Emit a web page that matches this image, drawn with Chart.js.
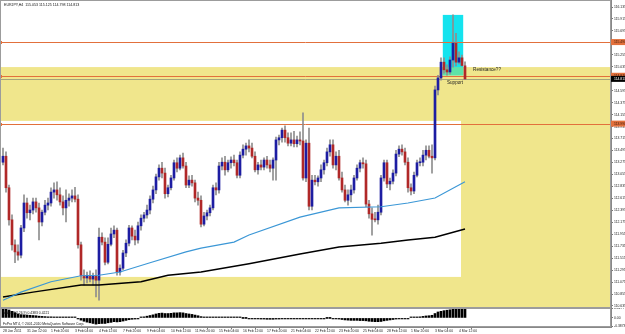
<!DOCTYPE html>
<html><head><meta charset="utf-8">
<script src="https://cdn.jsdelivr.net/npm/chart.js@4/dist/chart.umd.min.js"></script>
<style>
html,body{margin:0;padding:0;background:#fff;}
#wrap{position:relative;width:625px;height:334px;overflow:hidden;background:#fff;}
#c1{position:absolute;left:0;top:0;}
#c2{position:absolute;left:0;top:308px;}
</style></head><body>
<div id="wrap"><canvas id="c1" width="625" height="308"></canvas><canvas id="c2" width="625" height="26"></canvas></div>
<script>
// ---------------- DATA ----------------
const chartTitle = "EURJPY,H4  115.053 115.125 114.798 114.813";
const macdTitle = "MACD(12,26,9) 0.4383 0.4221";
const copyrightText = "FxPro MT4, \u00A9 2001-2010 MetaQuotes Software Corp.";

const openP = [113.28,113.39,112.81,112.22,111.76,111.63,111.57,112.07,112.53,112.35,
 112.40,112.55,112.44,112.18,112.36,112.49,112.53,112.73,112.77,112.68,
 112.55,112.44,112.58,112.62,112.66,112.60,111.76,111.19,111.15,111.20,
 111.13,111.19,111.11,111.90,111.81,111.44,111.77,111.96,112.03,111.26,
 111.33,111.61,111.79,112.07,111.92,111.85,112.11,112.25,112.31,112.40,
 112.60,112.77,113.01,113.17,113.08,112.70,112.81,112.99,113.27,113.17,
 113.36,113.21,112.86,112.95,112.90,112.62,112.58,112.14,112.29,112.35,
 112.44,112.81,112.77,113.21,113.28,113.14,113.27,113.32,113.27,113.04,
 113.41,113.52,113.58,113.54,113.39,113.14,113.23,113.19,113.32,113.23,
 113.17,113.32,113.69,113.73,113.87,113.73,113.63,113.69,113.62,113.69,
 113.67,112.99,113.63,112.47,112.95,112.92,112.99,113.14,113.27,113.47,
 113.60,113.23,113.39,112.99,112.77,112.58,112.68,112.77,112.99,113.17,
 113.27,113.25,112.51,112.33,112.23,112.22,112.36,112.99,113.27,112.88,
 112.93,113.08,113.43,113.52,113.47,113.28,112.81,112.75,113.04,113.27,
 113.28,113.41,113.50,113.39,113.36,114.61,114.83,115.12,114.98,114.94,
 115.16,115.47,115.12,115.20,115.053];
const highP = [113.54,113.47,112.86,112.31,111.85,111.76,112.12,112.68,112.62,112.49,
 112.62,112.62,112.53,112.40,112.58,112.62,112.81,112.90,112.92,112.81,
 112.66,112.77,112.70,112.77,112.82,112.68,111.81,111.30,111.26,111.28,
 111.24,111.30,112.07,111.98,111.89,111.89,112.07,112.11,112.07,111.39,
 111.66,111.85,112.12,112.11,112.03,112.18,112.31,112.36,112.49,112.66,
 112.84,113.06,113.23,113.28,113.17,112.86,113.04,113.32,113.36,113.41,
 113.45,113.28,113.03,113.04,112.95,112.73,112.66,112.36,112.40,112.49,
 112.86,112.90,113.28,113.36,113.39,113.32,113.38,113.41,113.32,113.47,
 113.60,113.63,113.69,113.63,113.47,113.28,113.32,113.36,113.39,113.32,
 113.36,113.74,113.78,113.91,113.95,113.82,113.82,113.85,113.76,113.84,
 114.19,113.69,113.91,113.04,113.04,113.03,113.23,113.32,113.54,113.69,
 113.69,113.47,113.50,113.10,112.86,112.77,112.86,113.04,113.23,113.32,
 113.36,113.32,112.58,112.44,112.36,112.49,113.04,113.32,113.32,112.99,
 113.14,113.50,113.58,113.60,113.54,113.36,112.88,113.10,113.32,113.36,
 113.50,113.58,113.58,113.60,114.68,114.88,115.20,115.20,115.07,115.22,
 115.99,115.65,115.31,115.25,115.125];
const lowP = [113.23,112.73,112.12,111.66,111.43,111.48,111.52,112.00,112.25,112.22,
 112.33,112.36,111.85,112.11,112.31,112.40,112.47,112.62,112.58,112.49,
 112.31,112.18,112.47,112.55,112.55,111.70,111.11,111.02,111.06,111.08,
 111.02,110.80,110.74,111.76,111.39,111.41,111.74,111.89,111.20,111.20,
 111.30,111.54,111.74,111.85,111.76,111.79,112.03,112.18,112.25,112.33,
 112.53,112.70,112.95,112.99,112.62,112.64,112.77,112.95,113.10,113.14,
 113.17,112.81,112.81,112.84,112.55,112.49,112.09,112.11,112.22,112.29,
 112.40,112.68,112.71,113.14,113.04,113.10,113.17,113.21,112.99,112.99,
 113.36,113.41,113.47,113.36,113.10,113.06,113.14,113.14,113.17,113.10,
 112.95,112.95,113.60,113.65,113.65,113.58,113.58,113.56,113.56,113.60,
 112.95,112.92,112.40,112.40,112.86,112.84,112.92,113.06,113.21,113.39,
 113.17,113.14,112.95,112.73,112.55,112.49,112.55,112.71,112.95,113.10,
 113.17,112.46,112.25,111.94,112.18,112.14,112.31,112.93,112.81,112.77,
 112.88,113.03,113.38,113.41,113.23,112.73,112.68,112.70,113.01,113.21,
 113.21,113.32,113.36,113.08,113.32,114.52,114.79,114.92,114.88,114.90,
 115.03,115.05,115.09,115.05,114.798];
const closeP = [113.39,112.81,112.22,111.76,111.63,111.57,112.07,112.53,112.35,112.40,
 112.55,112.44,112.18,112.36,112.49,112.53,112.73,112.77,112.68,112.55,
 112.44,112.58,112.62,112.66,112.60,111.76,111.19,111.15,111.20,111.13,
 111.19,111.11,111.90,111.81,111.44,111.77,111.96,112.03,111.26,111.33,
 111.61,111.79,112.07,111.92,111.85,112.11,112.25,112.31,112.40,112.60,
 112.77,113.01,113.17,113.08,112.70,112.81,112.99,113.27,113.17,113.36,
 113.21,112.86,112.95,112.90,112.62,112.58,112.14,112.29,112.35,112.44,
 112.81,112.77,113.21,113.28,113.14,113.27,113.32,113.27,113.04,113.41,
 113.52,113.58,113.54,113.39,113.14,113.23,113.19,113.32,113.23,113.17,
 113.32,113.69,113.73,113.87,113.73,113.63,113.69,113.62,113.69,113.67,
 112.99,113.63,112.47,112.95,112.92,112.99,113.14,113.27,113.47,113.60,
 113.23,113.39,112.99,112.77,112.58,112.68,112.77,112.99,113.17,113.27,
 113.25,112.51,112.33,112.23,112.22,112.36,112.99,113.27,112.88,112.93,
 113.08,113.43,113.52,113.47,113.28,112.81,112.75,113.04,113.27,113.28,
 113.41,113.50,113.39,113.36,114.61,114.83,115.12,114.98,114.94,115.16,
 115.47,115.12,115.20,115.06,114.813];

const macdVals = [0.42,0.40,0.36,0.30,0.24,0.18,0.15,0.14,0.13,0.12,
 0.11,0.10,0.08,0.07,0.06,0.05,0.05,0.04,0.04,0.03,
 0.03,0.02,0.02,0.02,0.01,-0.03,-0.10,-0.15,-0.19,-0.22,
 -0.25,-0.28,-0.26,-0.25,-0.25,-0.22,-0.20,-0.17,-0.18,-0.17,
 -0.14,-0.11,-0.08,-0.06,-0.05,-0.02,0.02,0.05,0.08,0.11,
 0.14,0.18,0.21,0.22,0.20,0.20,0.21,0.23,0.23,0.24,
 0.23,0.20,0.18,0.16,0.13,0.10,0.06,0.04,0.03,0.02,
 0.03,0.03,0.04,0.04,0.03,0.03,0.02,0.02,0.01,0.01,
 0.00,0.00,-0.01,-0.02,-0.03,-0.04,-0.05,-0.05,-0.06,-0.06,
 -0.06,-0.05,-0.05,-0.04,-0.04,-0.03,-0.03,-0.02,-0.02,-0.01,
 -0.01,-0.01,-0.02,-0.02,-0.02,-0.02,-0.01,-0.01,0.00,0.00,
 -0.01,-0.03,-0.05,-0.07,-0.09,-0.10,-0.11,-0.11,-0.11,-0.12,
 -0.12,-0.13,-0.15,-0.16,-0.17,-0.17,-0.16,-0.13,-0.11,-0.09,
 -0.07,-0.05,-0.03,-0.02,-0.01,-0.01,0.01,0.02,0.04,0.05,
 0.07,0.09,0.10,0.12,0.20,0.27,0.30,0.33,0.35,0.37,
 0.39,0.41,0.42,0.42,0.42];

const maBlueBar = [0,6,16,26,32,39,49,61,66,77,82,99,112,126,135,144,154];
const maBlueVal = [110.74,110.89,111.08,111.19,111.20,111.26,111.43,111.63,111.70,111.81,111.94,112.27,112.44,112.46,112.53,112.62,112.92];
const maBlackBar = [0,10,26,32,46,55,66,82,99,112,126,135,144,154];
const maBlackVal = [110.80,110.89,111.02,111.02,111.08,111.20,111.26,111.41,111.59,111.72,111.79,111.85,111.90,112.05];

const timeLabels = ["28 Jan 2011","31 Jan 12:00","1 Feb 20:00","3 Feb 04:00","4 Feb 12:00","7 Feb 20:00",
 "9 Feb 04:00","10 Feb 12:00","11 Feb 20:00","15 Feb 04:00","16 Feb 12:00","17 Feb 20:00","21 Feb 04:00",
 "22 Feb 12:00","23 Feb 20:00","25 Feb 04:00","28 Feb 12:00","1 Mar 20:00","3 Mar 04:00","4 Mar 12:00"];
const barsPerLabel = 8;

const priceTicks = [116.135,115.915,115.695,115.475,115.255,115.035,114.815,114.595,114.375,114.155,
 113.935,113.715,113.495,113.275,113.055,112.835,112.615,112.395,112.175,111.955,
 111.735,111.515,111.295,111.075,110.855,110.635];
const macdTicks = [0.4277, 0, -0.3873];
const macdTickLabels = ["0.4277","0.00","-0.3873"];

// rectangles: [fromBar, toBar, topPrice, bottomPrice]
const zoneYellow = [-5, 230, 115.03, 109.0];
const zoneWhite = [-5, 152.67, 114.04, 111.17];
const zoneCyan = [146.6, 153.4, 115.99, 114.88];
const levelPrices = [115.49, 114.87, 113.99];
const levelLabels = ["115.490","114.870","113.990"];
const bidPrice = 114.813;
const notes = ["Support", "Resistance??"];
const noteBars = [148, 156.7];
const notePrices = [114.75, 114.975];

// ---------------- HELPERS ----------------
const N = closeP.length;
const X_MIN = -1, X_MAX = -1 + 611/3;
const FONT = '"Liberation Sans", Arial, sans-serif';
const UP = '#1d1da2', DOWN = '#b02828', WICK = '#8e8e8e';
const YELLOW = '#F0E68C', CYAN = '#14E3EE', GREEN = '#5FE3A8', ORANGE = '#E2703C';

const idx = [...Array(N).keys()];
const wickData = idx.map(i => ({x: i, y: [lowP[i], highP[i]]}));
const bodyData = idx.map(i => ({x: i, y: [openP[i], closeP[i]]}));
const bodyColors = idx.map(i => closeP[i] >= openP[i] ? UP : DOWN);
const blueData = maBlueBar.map((b, k) => ({x: b, y: maBlueVal[k]}));
const blackData = maBlackBar.map((b, k) => ({x: b, y: maBlackVal[k]}));
const macdData = idx.map(i => ({x: i, y: macdVals[i]}));

function rectPx(chart, r) {
  const xs = chart.scales.x, ys = chart.scales.y;
  const x0 = xs.getPixelForValue(r[0]), x1 = xs.getPixelForValue(r[1]);
  const y0 = ys.getPixelForValue(r[2]), y1 = ys.getPixelForValue(r[3]);
  return [x0, y0, x1 - x0, y1 - y0];
}
function intersect(a, b) {
  return [Math.max(a[0], b[0]), Math.min(a[1], b[1]), Math.min(a[2], b[2]), Math.max(a[3], b[3])];
}

const bgPlugin = {
  id: 'bg',
  beforeDatasetsDraw(chart) {
    const ctx = chart.ctx, a = chart.chartArea, ys = chart.scales.y, xs = chart.scales.x;
    ctx.save();
    ctx.beginPath(); ctx.rect(a.left, a.top, a.right - a.left, a.bottom - a.top); ctx.clip();
    ctx.fillStyle = '#fff'; ctx.fillRect(a.left, a.top, a.right - a.left, a.bottom - a.top);
    ctx.fillStyle = YELLOW; ctx.fillRect(...rectPx(chart, zoneYellow));
    ctx.fillStyle = '#fff'; ctx.fillRect(...rectPx(chart, zoneWhite));
    ctx.fillStyle = CYAN; ctx.fillRect(...rectPx(chart, zoneCyan));
    const ov = intersect(zoneCyan, zoneYellow);
    if (ov[2] > ov[3]) { ctx.fillStyle = GREEN; ctx.fillRect(...rectPx(chart, ov)); }
    // bid line
    ctx.strokeStyle = '#a4a47a'; ctx.lineWidth = 1;
    let yb = Math.round(ys.getPixelForValue(bidPrice)) + 0.5;
    ctx.beginPath(); ctx.moveTo(a.left, yb); ctx.lineTo(a.right, yb); ctx.stroke();
    // levels
    ctx.strokeStyle = ORANGE;
    levelPrices.forEach(p => {
      const y = Math.round(ys.getPixelForValue(p)) + 0.5;
      ctx.beginPath(); ctx.moveTo(a.left, y); ctx.lineTo(a.right, y); ctx.stroke();
      ctx.fillStyle = ORANGE; ctx.fillRect(a.left, y - 1.5, 2, 3);
    });
    ctx.restore();
  },
  afterDraw(chart) {
    const ctx = chart.ctx, a = chart.chartArea, ys = chart.scales.y, xs = chart.scales.x;
    ctx.save();
    // frame
    ctx.strokeStyle = '#9c9c9c'; ctx.lineWidth = 1;
    ctx.strokeRect(a.left + 0.5, a.top + 0.5, a.right - a.left - 1, a.bottom - a.top - 1);
    // title
    ctx.fillStyle = '#111'; ctx.font = '3.6px ' + FONT; ctx.textBaseline = 'middle'; ctx.textAlign = 'left';
    ctx.fillText(chartTitle, 4, 5);
    // notes
    ctx.font = '4.6px ' + FONT; ctx.fillStyle = '#222';
    notes.forEach((t, k) => ctx.fillText(t, xs.getPixelForValue(noteBars[k]), ys.getPixelForValue(notePrices[k])));
    // axis level labels
    ctx.font = '3.4px ' + FONT;
    levelPrices.forEach((p, k) => {
      const y = ys.getPixelForValue(p);
      ctx.fillStyle = ORANGE; ctx.fillRect(a.right, y - 3, 625 - a.right, 6);
      ctx.fillStyle = '#3a1a0a'; ctx.fillText(levelLabels[k], a.right + 3, y);
    });
    const yb = ys.getPixelForValue(bidPrice);
    ctx.fillStyle = '#000'; ctx.fillRect(a.right, yb - 3, 625 - a.right, 6);
    ctx.fillStyle = '#fff'; ctx.fillText(bidPrice.toFixed(3), a.right + 3, yb);
    ctx.restore();
  }
};

const macdPlugin = {
  id: 'macdDeco',
  afterDraw(chart) {
    const ctx = chart.ctx, a = chart.chartArea;
    ctx.save();
    ctx.strokeStyle = '#9c9c9c'; ctx.lineWidth = 1;
    ctx.strokeRect(a.left + 0.5, a.top + 0.5, a.right - a.left - 1, a.bottom - a.top - 1);
    ctx.fillStyle = '#111'; ctx.font = '3.4px ' + FONT; ctx.textBaseline = 'middle'; ctx.textAlign = 'left';
    ctx.fillText(macdTitle, 3, a.top + 5);
    ctx.fillText(copyrightText, 3, a.top + 16);
    ctx.restore();
  }
};

function zeroPad(s) { s.paddingTop = 0; s.paddingBottom = 0; s.paddingLeft = 0; s.paddingRight = 0; }

Chart.defaults.font.family = FONT;
Chart.defaults.animation = false;

new Chart(document.getElementById('c1'), {
  type: 'bar',
  data: { datasets: [
    { type: 'line', data: blueData, borderColor: '#3b97d6', borderWidth: 1.1, pointRadius: 0, tension: 0, order: 0 },
    { type: 'line', data: blackData, borderColor: '#000', borderWidth: 1.5, pointRadius: 0, tension: 0, order: 0 },
    { data: bodyData, backgroundColor: bodyColors, barThickness: 2, grouped: false, minBarLength: 1, order: 1 },
    { data: wickData, backgroundColor: WICK, barThickness: 1, grouped: false, order: 2 }
  ]},
  options: {
    responsive: false, animation: false,
    layout: { padding: 0 },
    plugins: { legend: { display: false }, tooltip: { enabled: false } },
    events: [],
    scales: {
      x: { type: 'linear', min: X_MIN, max: X_MAX, offset: false, display: false },
      y: { position: 'right', min: 110.598, max: 116.264,
        afterBuildTicks: s => { s.ticks = priceTicks.map(v => ({value: v})); },
        afterFit: s => { s.width = 14; zeroPad(s); },
        ticks: { autoSkip: false, padding: 1, color: '#222', font: { size: 3.4 }, callback: v => v.toFixed(3) },
        grid: { drawOnChartArea: false, tickLength: 2, color: '#777' },
        border: { color: '#888' }
      }
    }
  },
  plugins: [bgPlugin]
});

new Chart(document.getElementById('c2'), {
  type: 'bar',
  data: { datasets: [
    { data: macdData, backgroundColor: '#000', barThickness: 2, minBarLength: 1, grouped: false }
  ]},
  options: {
    responsive: false, animation: false,
    layout: { padding: 0 },
    plugins: { legend: { display: false }, tooltip: { enabled: false } },
    events: [],
    scales: {
      x: { type: 'linear', min: X_MIN, max: X_MAX, offset: false, position: 'bottom',
        afterBuildTicks: s => { s.ticks = timeLabels.map((t, k) => ({value: k * barsPerLabel})); },
        afterFit: s => { s.height = 7; zeroPad(s); },
        ticks: { autoSkip: false, maxRotation: 0, align: 'start', padding: 0, color: '#222', font: { size: 3.4 },
          callback: (v, i) => timeLabels[i] },
        grid: { drawOnChartArea: false, tickLength: 2, color: '#777' },
        border: { color: '#888' }
      },
      y: { position: 'right', min: -0.41, max: 0.45,
        afterBuildTicks: s => { s.ticks = macdTicks.map(v => ({value: v})); },
        afterFit: s => { s.width = 14; zeroPad(s); },
        ticks: { autoSkip: false, padding: 1, color: '#222', font: { size: 3.4 }, callback: (v, i) => macdTickLabels[i] },
        grid: { drawOnChartArea: false, tickLength: 2, color: '#777' },
        border: { color: '#888' }
      }
    }
  },
  plugins: [macdPlugin]
});
</script>
</body></html>
